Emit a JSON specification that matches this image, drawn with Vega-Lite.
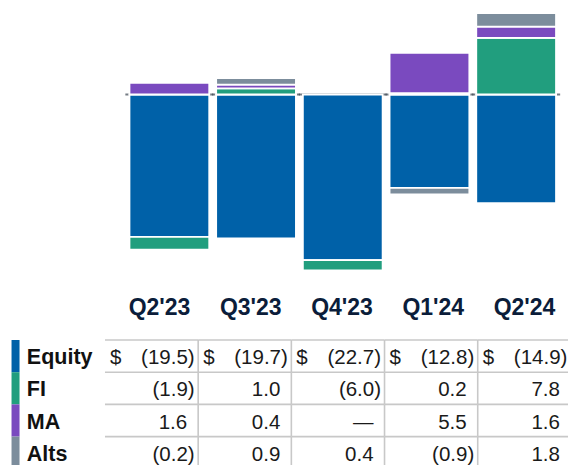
{
  "$schema": "https://vega.github.io/schema/vega-lite/v6.json",
  "width": 568,
  "height": 465,
  "autosize": {"type": "fit", "contains": "padding"},
  "padding": 0,
  "background": "white",
  "config": {"view": {"stroke": null}, "font": "Liberation Sans"},
  "datasets": {
    "bars": [
      {"q": "Q2'23", "cat": "Equity", "v": -19.5},
      {"q": "Q2'23", "cat": "FI", "v": -1.75},
      {"q": "Q2'23", "cat": "MA", "v": 1.6},
      {"q": "Q3'23", "cat": "Equity", "v": -19.7},
      {"q": "Q3'23", "cat": "FI", "v": 0.85},
      {"q": "Q3'23", "cat": "MA", "v": 0.5},
      {"q": "Q3'23", "cat": "Alts", "v": 0.9},
      {"q": "Q4'23", "cat": "Equity", "v": -22.7},
      {"q": "Q4'23", "cat": "FI", "v": -1.4},
      {"q": "Q1'24", "cat": "Equity", "v": -12.8},
      {"q": "Q1'24", "cat": "FI", "v": 0.2},
      {"q": "Q1'24", "cat": "MA", "v": 5.5},
      {"q": "Q1'24", "cat": "Alts", "v": -0.9},
      {"q": "Q2'24", "cat": "Equity", "v": -14.9},
      {"q": "Q2'24", "cat": "FI", "v": 7.75},
      {"q": "Q2'24", "cat": "MA", "v": 1.55},
      {"q": "Q2'24", "cat": "Alts", "v": 1.85}
    ],
    "table": [
      {"q": "Q2'23", "cat": "Equity", "t": "(19.5)"},
      {"q": "Q3'23", "cat": "Equity", "t": "(19.7)"},
      {"q": "Q4'23", "cat": "Equity", "t": "(22.7)"},
      {"q": "Q1'24", "cat": "Equity", "t": "(12.8)"},
      {"q": "Q2'24", "cat": "Equity", "t": "(14.9)"},
      {"q": "Q2'23", "cat": "FI", "t": "(1.9)"},
      {"q": "Q3'23", "cat": "FI", "t": "1.0"},
      {"q": "Q4'23", "cat": "FI", "t": "(6.0)"},
      {"q": "Q1'24", "cat": "FI", "t": "0.2"},
      {"q": "Q2'24", "cat": "FI", "t": "7.8"},
      {"q": "Q2'23", "cat": "MA", "t": "1.6"},
      {"q": "Q3'23", "cat": "MA", "t": "0.4"},
      {"q": "Q4'23", "cat": "MA", "t": "—"},
      {"q": "Q1'24", "cat": "MA", "t": "5.5"},
      {"q": "Q2'24", "cat": "MA", "t": "1.6"},
      {"q": "Q2'23", "cat": "Alts", "t": "(0.2)"},
      {"q": "Q3'23", "cat": "Alts", "t": "0.9"},
      {"q": "Q4'23", "cat": "Alts", "t": "0.4"},
      {"q": "Q1'24", "cat": "Alts", "t": "(0.9)"},
      {"q": "Q2'24", "cat": "Alts", "t": "1.8"}
    ]
  },
  "layer": [
    {
      "data": {"name": "bars"},
      "transform": [
        {"calculate": "indexof(['Equity','FI','MA','Alts'], datum.cat)", "as": "k"}
      ],
      "layer": [
        {
          "transform": [{"filter": "datum.cat === 'Equity'"}],
          "mark": {"type": "tick", "orient": "horizontal", "size": 88, "thickness": 2, "color": "#3a4550"},
          "encoding": {
            "x": {"field": "q", "type": "nominal", "sort": null, "axis": null,
                  "scale": {"domain": ["Q2'23", "Q3'23", "Q4'23", "Q1'24", "Q2'24"], "range": [126, 559.5], "paddingInner": 0.08, "paddingOuter": 0.04}},
            "y": {"datum": 0, "type": "quantitative", "axis": null,
                  "scale": {"domain": [-20, 10], "range": [240.5, 21.5], "nice": false, "zero": false}}
          }
        },
        {
          "mark": {"type": "bar", "stroke": "white", "strokeWidth": 1.8},
          "encoding": {
            "x": {"field": "q", "type": "nominal", "sort": null, "axis": null,
                  "scale": {"domain": ["Q2'23", "Q3'23", "Q4'23", "Q1'24", "Q2'24"], "range": [126, 559.5], "paddingInner": 0.08, "paddingOuter": 0.04}},
            "y": {"field": "v", "type": "quantitative", "stack": "zero", "axis": null,
                  "scale": {"domain": [-20, 10], "range": [240.5, 21.5], "nice": false, "zero": false}},
            "color": {"field": "cat", "type": "nominal", "legend": null,
                      "scale": {"domain": ["Equity", "FI", "MA", "Alts"], "range": ["#0061a8", "#219e7e", "#7a4abf", "#7c8d9c"]}},
            "order": {"field": "k", "type": "quantitative"}
          }
        }
      ]
    },
    {
      "data": {"name": "table"},
      "layer": [
        {
          "transform": [{"filter": "datum.cat === 'Equity'"}],
          "mark": {"type": "text", "fontSize": 23, "fontWeight": "bold", "color": "#0b1d3a", "baseline": "middle", "align": "center"},
          "encoding": {
            "x": {"field": "q", "type": "nominal", "sort": null, "axis": null,
                  "scale": {"type": "point", "domain": ["Q2'23", "Q3'23", "Q4'23", "Q1'24", "Q2'24"], "range": [159.5, 524.5], "padding": 0}},
            "y": {"datum": "hdr", "type": "nominal", "bandPosition": 0, "axis": null,
                  "scale": {"type": "band", "domain": ["hdr", "Equity", "FI", "MA", "Alts"], "range": [307.8, 468.8], "paddingInner": 0, "paddingOuter": 0}},
            "text": {"field": "q"}
          }
        },
        {
          "layer": [
            {
              "mark": {"type": "rule", "color": "#c8c8c8", "strokeWidth": 1.6},
              "encoding": {
                "x": {"field": "q", "type": "nominal", "bandPosition": 0, "axis": null,
                      "scale": {"type": "band", "domain": ["hdr", "Q2'23", "Q3'23", "Q4'23", "Q1'24", "Q2'24"], "range": [11.8, 570.9], "paddingInner": 0, "paddingOuter": 0}},
                "x2": {"field": "q", "bandPosition": 1},
                "y": {"field": "cat", "type": "nominal", "bandPosition": 0, "axis": null,
                      "scale": {"type": "band", "domain": ["hdr", "Equity", "FI", "MA", "Alts"], "range": [307.8, 468.8], "paddingInner": 0, "paddingOuter": 0}}
              }
            },
            {
              "mark": {"type": "rule", "color": "#c8c8c8", "strokeWidth": 1.6},
              "encoding": {
                "x": {"field": "q", "type": "nominal", "bandPosition": 1, "axis": null,
                      "scale": {"type": "band", "domain": ["hdr", "Q2'23", "Q3'23", "Q4'23", "Q1'24", "Q2'24"], "range": [11.8, 570.9], "paddingInner": 0, "paddingOuter": 0}},
                "y": {"field": "cat", "type": "nominal", "bandPosition": 0, "axis": null,
                      "scale": {"type": "band", "domain": ["hdr", "Equity", "FI", "MA", "Alts"], "range": [307.8, 468.8], "paddingInner": 0, "paddingOuter": 0}},
                "y2": {"field": "cat", "bandPosition": 1}
              }
            },
            {
              "transform": [{"filter": "datum.q === \"Q2'23\""}],
              "mark": {"type": "rule", "strokeWidth": 8},
              "encoding": {
                "x": {"datum": "hdr", "type": "nominal", "bandPosition": 0.04, "axis": null,
                      "scale": {"type": "band", "domain": ["hdr", "Q2'23", "Q3'23", "Q4'23", "Q1'24", "Q2'24"], "range": [11.8, 570.9], "paddingInner": 0, "paddingOuter": 0}},
                "y": {"field": "cat", "type": "nominal", "bandPosition": 0, "axis": null,
                      "scale": {"type": "band", "domain": ["hdr", "Equity", "FI", "MA", "Alts"], "range": [307.8, 468.8], "paddingInner": 0, "paddingOuter": 0}},
                "y2": {"field": "cat", "bandPosition": 1},
                "color": {"field": "cat", "type": "nominal", "legend": null,
                          "scale": {"domain": ["Equity", "FI", "MA", "Alts"], "range": ["#0061a8", "#219e7e", "#7a4abf", "#7c8d9c"]}}
              }
            },
            {
              "transform": [{"filter": "datum.q === \"Q2'23\""}],
              "mark": {"type": "text", "fontSize": 21.5, "fontWeight": "bold", "color": "#111111", "align": "left", "baseline": "middle", "dx": 15, "dy": 2},
              "encoding": {
                "x": {"datum": "hdr", "type": "nominal", "bandPosition": 0, "axis": null,
                      "scale": {"type": "band", "domain": ["hdr", "Q2'23", "Q3'23", "Q4'23", "Q1'24", "Q2'24"], "range": [11.8, 570.9], "paddingInner": 0, "paddingOuter": 0}},
                "y": {"field": "cat", "type": "nominal", "axis": null,
                      "scale": {"type": "band", "domain": ["hdr", "Equity", "FI", "MA", "Alts"], "range": [307.8, 468.8], "paddingInner": 0, "paddingOuter": 0}},
                "text": {"field": "cat"}
              }
            },
            {
              "transform": [{"filter": "datum.cat === 'Equity'"}],
              "mark": {"type": "text", "fontSize": 20.5, "color": "#1a1a1a", "align": "left", "baseline": "middle", "dx": 5, "dy": 2, "text": "$"},
              "encoding": {
                "x": {"field": "q", "type": "nominal", "bandPosition": 0, "axis": null,
                      "scale": {"type": "band", "domain": ["hdr", "Q2'23", "Q3'23", "Q4'23", "Q1'24", "Q2'24"], "range": [11.8, 570.9], "paddingInner": 0, "paddingOuter": 0}},
                "y": {"field": "cat", "type": "nominal", "axis": null,
                      "scale": {"type": "band", "domain": ["hdr", "Equity", "FI", "MA", "Alts"], "range": [307.8, 468.8], "paddingInner": 0, "paddingOuter": 0}}
              }
            },
            {
              "transform": [{"filter": "test(/\\)$/, datum.t)"}],
              "mark": {"type": "text", "fontSize": 20.5, "color": "#1a1a1a", "align": "right", "baseline": "middle", "dx": -3.5, "dy": 2},
              "encoding": {
                "x": {"field": "q", "type": "nominal", "bandPosition": 1, "axis": null,
                      "scale": {"type": "band", "domain": ["hdr", "Q2'23", "Q3'23", "Q4'23", "Q1'24", "Q2'24"], "range": [11.8, 570.9], "paddingInner": 0, "paddingOuter": 0}},
                "y": {"field": "cat", "type": "nominal", "axis": null,
                      "scale": {"type": "band", "domain": ["hdr", "Equity", "FI", "MA", "Alts"], "range": [307.8, 468.8], "paddingInner": 0, "paddingOuter": 0}},
                "text": {"field": "t"}
              }
            },
            {
              "transform": [{"filter": "!test(/\\)$/, datum.t)"}],
              "mark": {"type": "text", "fontSize": 20.5, "color": "#1a1a1a", "align": "right", "baseline": "middle", "dx": -11, "dy": 2},
              "encoding": {
                "x": {"field": "q", "type": "nominal", "bandPosition": 1, "axis": null,
                      "scale": {"type": "band", "domain": ["hdr", "Q2'23", "Q3'23", "Q4'23", "Q1'24", "Q2'24"], "range": [11.8, 570.9], "paddingInner": 0, "paddingOuter": 0}},
                "y": {"field": "cat", "type": "nominal", "axis": null,
                      "scale": {"type": "band", "domain": ["hdr", "Equity", "FI", "MA", "Alts"], "range": [307.8, 468.8], "paddingInner": 0, "paddingOuter": 0}},
                "text": {"field": "t"}
              }
            }
          ]
        }
      ],
      "resolve": {"scale": {"x": "independent"}}
    }
  ],
  "resolve": {"scale": {"x": "independent", "y": "independent", "color": "independent"}}
}
